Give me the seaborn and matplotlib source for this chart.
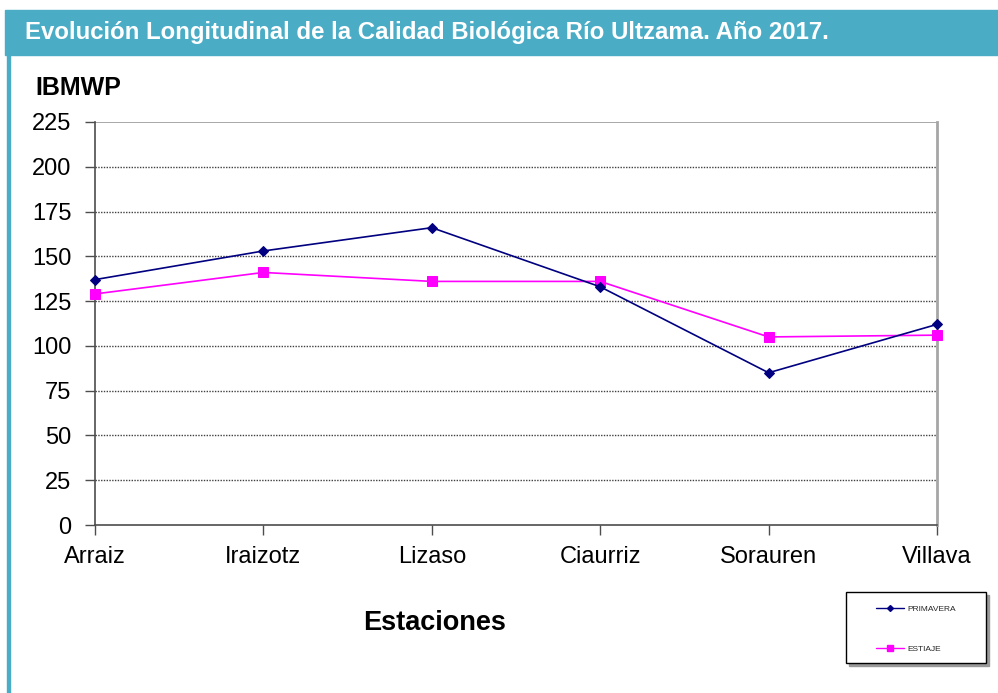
import pandas as pd
import seaborn as sns
import matplotlib.pyplot as plt
from matplotlib.patches import Rectangle
from matplotlib.lines import Line2D

estaciones = ["Arraiz", "Iraizotz", "Lizaso", "Ciaurriz", "Sorauren", "Villava"]
primavera = [137, 153, 166, 133, 85, 112]
estiaje = [129, 141, 136, 136, 105, 106]
yticks = [0, 25, 50, 75, 100, 125, 150, 175, 200, 225]

titulo = "Evolución Longitudinal de la Calidad Biológica Río Ultzama. Año 2017."
teal = "#4BACC6"

sns.set_style("white")
plt.rcParams["font.family"] = ["Liberation Sans", "DejaVu Sans"]

fig = plt.figure(figsize=(9.98, 6.93), dpi=100)

# barra del titulo y borde izquierdo
fig.patches.append(Rectangle((5 / 998, 1 - 55 / 693), 993 / 998, 45 / 693,
                             transform=fig.transFigure, color=teal, zorder=0))
fig.patches.append(Rectangle((7 / 998, 0), 3 / 998, 1 - 55 / 693,
                             transform=fig.transFigure, color=teal, zorder=0))
fig.text(25 / 998, 1 - 32 / 693, titulo, color="white", fontsize=17.3,
         fontweight="bold", va="center", ha="left")

ax = fig.add_axes([95 / 998, 1 - 525 / 693, 842 / 998, 403 / 693])

df = pd.DataFrame({"Estacion": estaciones, "PRIMAVERA": primavera, "ESTIAJE": estiaje})

sns.lineplot(data=df, x="Estacion", y="PRIMAVERA", ax=ax, color="#000080",
             marker="D", markersize=5, markeredgecolor="#000080", lw=1.2,
             sort=False, clip_on=False, zorder=4)
sns.lineplot(data=df, x="Estacion", y="ESTIAJE", ax=ax, color="#FF00FF",
             marker="s", markersize=7, markeredgecolor="#FF00FF", lw=1.2,
             sort=False, clip_on=False, zorder=3)

ax.set_xlim(0, 5)
ax.set_ylim(0, 225)
ax.set_yticks(yticks)
for v in yticks[1:-1]:
    ax.axhline(v, color="0.25", lw=1, ls=(0, (1, 1)), zorder=0)
ax.axhline(225, color="0.6", lw=1.2, zorder=0)

ax.set_xlabel("")
ax.set_ylabel("")
ax.tick_params(axis="both", labelsize=17, labelcolor="black", direction="out",
               length=7, color="0.3", width=1, left=True, bottom=True)
ax.tick_params(axis="y", pad=10)
ax.tick_params(axis="x", pad=8)
for s in ["left", "bottom"]:
    ax.spines[s].set_color("0.3")
    ax.spines[s].set_linewidth(1.2)
ax.spines["top"].set_visible(False)
ax.spines["right"].set_color("0.65")
ax.spines["right"].set_linewidth(2)

fig.text(35 / 998, 1 - 88 / 693, "IBMWP", fontsize=18, fontweight="bold",
         va="center", color="black")
fig.text(435 / 998, 1 - 623 / 693, "Estaciones", fontsize=19.5, fontweight="bold",
         va="center", ha="center", color="black")

# caja de la leyenda con sombra
fig.patches.append(Rectangle((849 / 998, 1 - 666 / 693), 140 / 998, 71 / 693,
                             transform=fig.transFigure, color="0.6", zorder=1))
fig.patches.append(Rectangle((846 / 998, 1 - 663 / 693), 140 / 998, 71 / 693,
                             transform=fig.transFigure, facecolor="white",
                             edgecolor="black", lw=1, zorder=2))

handles = [
    Line2D([], [], color="#000080", marker="D", markersize=3, lw=1),
    Line2D([], [], color="#FF00FF", marker="s", markersize=4.5, lw=1),
]
leg = fig.legend(handles, ["PRIMAVERA", "ESTIAJE"], loc="upper left",
                 bbox_to_anchor=(876 / 998, 1 - 605 / 693), fontsize=6,
                 frameon=False, labelspacing=3.9, handlelength=3.3,
                 borderpad=0, borderaxespad=0, handletextpad=0.5)
leg.set_zorder(5)

fig.savefig("out.png", dpi=100)
